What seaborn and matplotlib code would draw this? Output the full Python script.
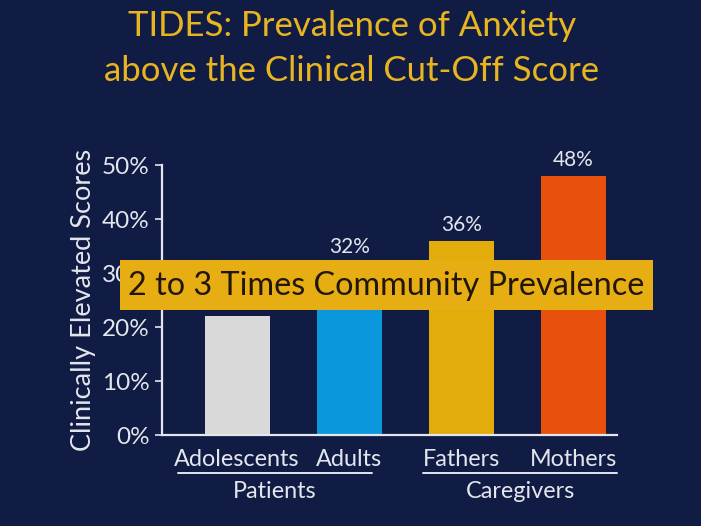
import matplotlib
matplotlib.use("Agg")
import matplotlib.pyplot as plt
from matplotlib.patches import Rectangle
import seaborn as sns
import pandas as pd

# data
categories = ["Adolescents", "Adults", "Fathers", "Mothers"]
values = [22, 32, 36, 48]
bar_colors = ["#D9D9D9", "#0B97DB", "#E2AD0A", "#E8500E"]
shown_labels = [False, True, True, True]   # 22% label sits under the banner
groups = ["Patients", "Caregivers"]
group_members = [[0, 1], [2, 3]]
y_ticks = [0, 10, 20, 30, 40, 50]

BG = "#101C44"
TXT = "#E4E6EE"
GOLD = "#E6AE12"

sns.set_theme(style="white")
plt.rcParams["font.family"] = ["Lato", "DejaVu Sans"]

df = pd.DataFrame({"group": categories, "value": values})

fig = plt.figure(figsize=(7.01, 5.26), dpi=100, facecolor=BG)
ax = fig.add_axes([162 / 701, 1 - 435 / 526, (617 - 162) / 701, (435 - 165) / 526])
ax.set_facecolor(BG)

sns.barplot(data=df, x="group", y="value", hue="group", palette=bar_colors,
            width=0.58, saturation=1, legend=False, linewidth=0,
            edgecolor="none", ax=ax)

ax.set_xlim(-0.67, 3.39)
ax.set_ylim(0, 50)
ax.set_yticks(y_ticks)
ax.set_yticklabels([f"{t}%" for t in y_ticks], fontsize=17.5, color=TXT)
ax.tick_params(axis="y", left=True, length=5, width=1.2, color=TXT, pad=4)
ax.tick_params(axis="x", bottom=False, pad=4)
ax.set_xticks(range(len(categories)))
ax.set_xticklabels(categories, fontsize=16.8, color=TXT)
ax.set_xlabel("")
ax.set_ylabel("Clinically Elevated Scores", fontsize=19.5, color=TXT, labelpad=4)

for side in ["top", "right"]:
    ax.spines[side].set_visible(False)
for side in ["left", "bottom"]:
    ax.spines[side].set_color(TXT)
    ax.spines[side].set_linewidth(1.6)

# value labels
for i, (v, show) in enumerate(zip(values, shown_labels)):
    if show:
        ax.text(i, v + 1.0, f"{v}%", ha="center", va="bottom",
                fontsize=15, color=TXT)

# group underline + group name below the tick labels
group_pad = [(-0.53, 0.2), (-0.34, 0.39)]
for name, members, (lo, hi) in zip(groups, group_members, group_pad):
    x0, x1 = members[0] + lo, members[-1] + hi
    ax.plot([x0, x1], [-7, -7], color=TXT, lw=1.4, clip_on=False)
    ax.text((x0 + x1) / 2, -8.5, name, ha="center", va="top",
            fontsize=16.8, color=TXT)

# title
fig.text(0.502, 1 - 26 / 526, "TIDES: Prevalence of Anxiety", ha="center",
         va="center", fontsize=25, color="#E8B520")
fig.text(0.502, 1 - 71 / 526, "above the Clinical Cut-Off Score", ha="center",
         va="center", fontsize=25, color="#E8B520")

# overlay banner
fig.add_artist(Rectangle((120 / 701, 1 - 310 / 526), 533 / 701, 50 / 526,
                         transform=fig.transFigure, fc=GOLD, ec="none"))
fig.text(386.5 / 701, 1 - 286 / 526, "2 to 3 Times Community Prevalence",
         ha="center", va="center", fontsize=23.3, color="#22160A")

fig.savefig("out.png", dpi=100, facecolor=BG)
